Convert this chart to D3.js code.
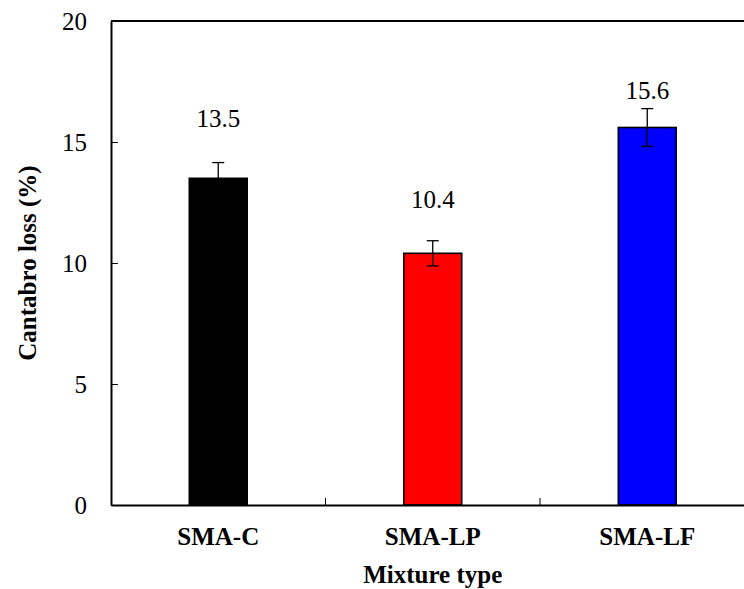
<!DOCTYPE html>
<html>
<head>
<meta charset="utf-8">
<script src="https://cdn.jsdelivr.net/npm/d3@7"></script>
<style>
  html, body { margin: 0; padding: 0; background: #fff; }
  svg { display: block; }
</style>
</head>
<body>
<svg id="chart" width="744" height="589"></svg>
<script>
// ---- data ----
const categories = ["SMA-C", "SMA-LP", "SMA-LF"];
const values = [13.5, 10.4, 15.6];
const errors = [0.65, 0.52, 0.78];
const barColors = ["#000000", "#ff0000", "#0000ff"];
const valueLabels = ["13.5", "10.4", "15.6"];
const labelAt = [15.62, 12.27, 16.78];   // label baseline level, in data units
const yTicks = [0, 5, 10, 15, 20];
const yTitle = "Cantabro loss (%)";
const xTitle = "Mixture type";

// ---- layout ----
const FONT = "'Liberation Serif', 'Times New Roman', Times, 'DejaVu Serif', serif";
const m = { left: 111, top: 21, bottom: 505 };
const plotRight = 754.5;

const svg = d3.select("#chart").style("font-family", FONT);

const x = d3.scaleBand().domain(categories).range([m.left, plotRight]).paddingInner(0).paddingOuter(0);
const y = d3.scaleLinear().domain([0, 20]).range([m.bottom, m.top]);
const barW = x.bandwidth() * 0.27;

// frame (top border)
svg.append("line")
  .attr("x1", m.left).attr("x2", plotRight)
  .attr("y1", y(20)).attr("y2", y(20))
  .attr("stroke", "#000").attr("stroke-width", 2);

// bars
const g = svg.append("g");
categories.forEach((c, i) => {
  const cx = x(c) + x.bandwidth() / 2;
  g.append("rect")
    .attr("x", cx - barW / 2)
    .attr("y", y(values[i]))
    .attr("width", barW)
    .attr("height", y(0) - y(values[i]))
    .attr("fill", barColors[i])
    .attr("stroke", "#000")
    .attr("stroke-width", 1.6);
  const eg = g.append("g").attr("stroke", "#000").attr("stroke-width", 1.3);
  eg.append("line").attr("x1", cx).attr("x2", cx)
    .attr("y1", y(values[i] + errors[i])).attr("y2", y(values[i] - errors[i]));
  [values[i] + errors[i], values[i] - errors[i]].forEach(v => {
    eg.append("line").attr("x1", cx - 6).attr("x2", cx + 6)
      .attr("y1", y(v)).attr("y2", y(v));
  });
  g.append("text")
    .attr("x", cx)
    .attr("y", y(labelAt[i]))
    .attr("text-anchor", "middle")
    .style("font-family", FONT)
    .attr("font-size", 25)
    .text(valueLabels[i]);
});

// y axis
const yAxis = d3.axisLeft(y).tickValues(yTicks).tickSizeInner(-7).tickSizeOuter(0).tickPadding(24);
const ya = svg.append("g").attr("transform", `translate(${m.left},0)`).call(yAxis);
ya.attr("font-family", null).style("font-family", FONT);
ya.select(".domain").attr("stroke", "#000").attr("stroke-width", 2);
ya.selectAll(".tick line").attr("stroke", "#000").attr("stroke-width", 1);
ya.selectAll(".tick text").attr("font-size", 25).style("font-family", FONT).attr("dy", "0.33em");

// x axis
const xAxis = d3.axisBottom(x).tickSize(0).tickPadding(22);
const xa = svg.append("g").attr("transform", `translate(0,${m.bottom})`).call(xAxis);
xa.attr("font-family", null).style("font-family", FONT);
xa.select(".domain").attr("stroke", "#000").attr("stroke-width", 2);
xa.selectAll(".tick text").attr("font-size", 25).attr("font-weight", "bold").style("font-family", FONT);
const bounds = categories.slice(1).map(c => x(c));
svg.append("g").selectAll("line").data(bounds).join("line")
  .attr("x1", d => d).attr("x2", d => d)
  .attr("y1", m.bottom).attr("y2", m.bottom - 7)
  .attr("stroke", "#000").attr("stroke-width", 1);

// axis titles
svg.append("text")
  .attr("transform", `translate(36,${(m.top + m.bottom) / 2}) rotate(-90)`)
  .attr("text-anchor", "middle")
  .style("font-family", FONT)
  .attr("font-size", 25).attr("font-weight", "bold")
  .text(yTitle);
svg.append("text")
  .attr("x", (m.left + plotRight) / 2)
  .attr("y", 583)
  .attr("text-anchor", "middle")
  .style("font-family", FONT)
  .attr("font-size", 25).attr("font-weight", "bold")
  .text(xTitle);
</script>
</body>
</html>
